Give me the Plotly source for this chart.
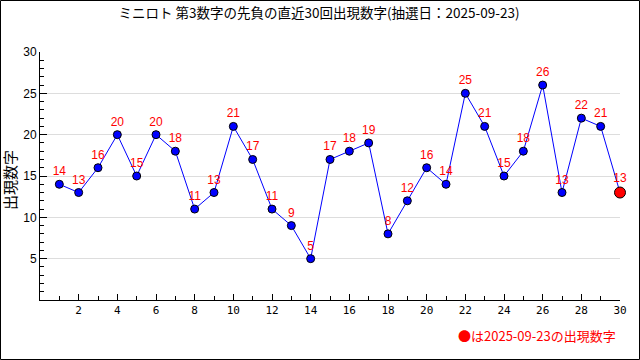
import plotly.graph_objects as go

draws = list(range(1, 31))
values = [14, 13, 16, 20, 15, 20, 18, 11, 13, 21, 17, 11, 9, 5, 17, 18, 19, 8, 12, 16,
          14, 25, 21, 15, 18, 26, 13, 22, 21, 13]
title_text = "ミニロト 第3数字の先負の直近30回出現数字(抽選日：2025-09-23)"
y_title = "出現数字"
note_text = "●は2025-09-23の出現数字"
x_ticks = list(range(2, 31, 2))
y_ticks = list(range(5, 31, 5))

W, H = 640, 360
L, R, T, B = 40, 20, 52, 60
pw, ph = W - L - R, H - T - B

fig = go.Figure()
fig.add_trace(go.Scatter(
    x=draws, y=values,
    mode="lines", line=dict(color="#0000ff", width=1), hoverinfo="skip", showlegend=False))
fig.add_trace(go.Scatter(
    x=draws[:-1], y=values[:-1], mode="markers+text", cliponaxis=False,
    marker=dict(color="#0000ff", size=8, line=dict(color="black", width=1)),
    text=[str(v) for v in values[:-1]], textposition="top center",
    textfont=dict(color="#ff0000", size=12, family="Liberation Sans, Arial"),
    showlegend=False))
fig.add_trace(go.Scatter(
    x=[draws[-1]], y=[values[-1]], mode="markers+text", cliponaxis=False,
    marker=dict(color="#ff0000", size=11, line=dict(color="black", width=1)),
    text=[str(values[-1])], textposition="top center",
    textfont=dict(color="#ff0000", size=12, family="Liberation Sans, Arial"),
    showlegend=False))

fig.update_layout(
    width=W, height=H, margin=dict(l=L, r=R, t=T, b=B),
    paper_bgcolor="white", plot_bgcolor="white",
    font=dict(family="DejaVu Sans Mono, monospace", size=11, color="black"),
    title=dict(text=title_text, x=319 / W, xref="container", xanchor="center",
               y=1 - 13 / H, yref="container", yanchor="middle",
               font=dict(family="Noto Sans CJK JP", size=13.5, color="black")),
    xaxis=dict(range=[0, 30], tickmode="array", tickvals=x_ticks,
               ticks="inside", ticklen=6, tickcolor="black", showgrid=False,
               showline=True, linecolor="black", linewidth=1, zeroline=False,
               minor=dict(tickmode="linear", tick0=0, dtick=1, ticks="inside",
                          ticklen=4, tickcolor="black", showgrid=False),
               tickfont=dict(family="DejaVu Sans Mono, monospace", size=11)),
    yaxis=dict(range=[0, 30], tickmode="array", tickvals=y_ticks,
               ticks="inside", ticklen=7, tickcolor="black",
               showgrid=True, gridcolor="#dddddd", gridwidth=1,
               showline=True, linecolor="black", linewidth=1, zeroline=False,
               minor=dict(tickmode="linear", tick0=0, dtick=1, ticks="inside",
                          ticklen=4, tickcolor="black", showgrid=False),
               tickfont=dict(family="Liberation Sans, Arial", size=12)),
    annotations=[
        dict(text=y_title, xref="paper", yref="paper", x=(9 - L) / pw, y=(300 - 180) / ph,
             xanchor="center", yanchor="middle", textangle=-90, showarrow=False,
             font=dict(family="Noto Sans CJK JP", size=15, color="black")),
        dict(text=note_text, xref="paper", yref="paper", x=(618 - L) / pw,
             y=-(335 - (T + ph)) / ph,
             xanchor="right", yanchor="middle", showarrow=False,
             font=dict(family="Noto Sans CJK JP", size=13, color="#ff0000")),
    ],
    shapes=[dict(type="rect", xref="paper", yref="paper",
                 x0=-(L - 0.5) / pw, x1=1 + (R - 0.5) / pw,
                 y0=-(B - 0.5) / ph, y1=1 + (T - 0.5) / ph,
                 line=dict(color="black", width=1))],
)
fig.write_html("out.html", config={"displayModeBar": False},
               post_script="document.body.style.margin='0';")
